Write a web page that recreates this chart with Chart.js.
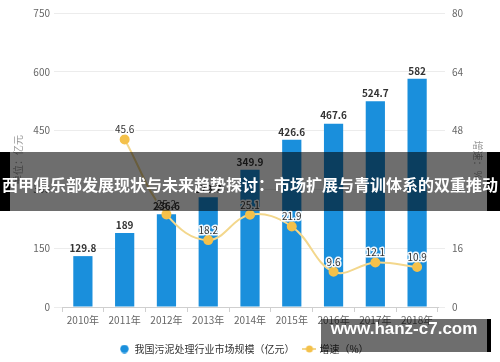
<!DOCTYPE html>
<html>
<head>
<meta charset="utf-8">
<script src="https://cdn.jsdelivr.net/npm/chart.js@4.4.0/dist/chart.umd.min.js"></script>
<style>
  html, body { margin: 0; padding: 0; background: #fff; }
  #wrap { position: relative; width: 500px; height: 362px; overflow: hidden; }
  canvas { position: absolute; left: 0; top: 0; }
  .banner { position: absolute; left: 0; top: 152px; width: 500px; height: 59px; }
  .banner .blk1 { position: absolute; left: 0; top: 0; width: 10px; height: 59px; background: #000; }
  .banner .blk2 { position: absolute; left: 487px; top: 0; width: 13px; height: 59px; background: #000; }
  .banner .gray { position: absolute; left: 10px; top: 0; width: 477px; height: 59px; background: rgba(0,0,0,0.57); }
  .banner .txt { position: absolute; left: -20px; width: 540px; top: 18px; text-align: center; color: #fff;
    font: bold 16px "Noto Sans CJK SC", sans-serif; line-height: 28px; white-space: nowrap; }
  .wm { position: absolute; left: 321px; top: 319px; width: 166px; height: 33px; background: rgba(0,0,0,0.57); }
  .wm .blk { position: absolute; left: 166px; top: 0; width: 4px; height: 33px; background: #000; }
  .wm .txt { position: absolute; left: 0; width: 166px; top: 0; line-height: 33px; text-align: center; color: #fff;
    font: bold 17px "Liberation Sans", Arial, sans-serif; white-space: nowrap; }
</style>
</head>
<body>
<div id="wrap">
  <canvas id="c" width="500" height="362"></canvas>
  <div class="banner"><div class="blk1"></div><div class="gray"></div><div class="blk2"></div>
    <div class="txt">西甲俱乐部发展现状与未来趋势探讨：市场扩展与青训体系的双重推动</div></div>
  <div class="wm"><div class="blk"></div><div class="txt">www.hanz-c7.com</div></div>
</div>
<script>
const categories = ['2010年','2011年','2012年','2013年','2014年','2015年','2016年','2017年','2018年'];
const marketSize = [129.8, 189, 236.6, 279.7, 349.9, 426.6, 467.6, 524.7, 582];
const growthRate = [null, 45.6, 25.2, 18.2, 25.1, 21.9, 9.6, 12.1, 10.9];
const leftTicks = [0, 150, 300, 450, 600, 750];
const rightTicks = [0, 16, 32, 48, 64, 80];
const seriesNames = ['我国污泥处理行业市场规模（亿元）', '增速（%）'];
const axisTitles = ['单位：亿元', '增速：%'];

const BLUE = '#1a8fdc';
const YELLOW_LINE = '#f3d78c';
const YELLOW_PT = '#f4c14b';
const FONT = '"Noto Sans CJK SC", "Noto Sans", sans-serif';

function makeCircleIcon() {
  const c = document.createElement('canvas'); c.width = 9; c.height = 9;
  const g = c.getContext('2d');
  g.fillStyle = BLUE; g.beginPath(); g.arc(4.5, 4.5, 4.2, 0, Math.PI * 2); g.fill();
  return c;
}
function makeLineIcon() {
  const c = document.createElement('canvas'); c.width = 14; c.height = 8;
  const g = c.getContext('2d');
  g.strokeStyle = YELLOW_LINE; g.lineWidth = 2;
  g.beginPath(); g.moveTo(0, 4); g.lineTo(14, 4); g.stroke();
  g.fillStyle = YELLOW_PT; g.beginPath(); g.arc(7, 4, 3.5, 0, Math.PI * 2); g.fill();
  return c;
}
const icons = [makeCircleIcon(), makeLineIcon()];

const labelPlugin = {
  id: 'valueLabels',
  afterDatasetsDraw(chart) {
    const ctx = chart.ctx;
    ctx.save();
    ctx.textAlign = 'center';
    ctx.textBaseline = 'middle';
    chart.data.datasets.forEach((ds, di) => {
      const meta = chart.getDatasetMeta(di);
      meta.data.forEach((el, i) => {
        const v = ds.data[i];
        if (v === null || v === undefined) return;
        const txt = String(v);
        if (ds.type === 'bar') {
          ctx.font = '600 10px ' + FONT;
          ctx.fillStyle = '#333';
          ctx.fillText(txt, el.x, el.y - 8);
        } else {
          ctx.font = '10px ' + FONT;
          ctx.lineWidth = 3;
          ctx.strokeStyle = 'rgba(255,255,255,0.95)';
          ctx.lineJoin = 'round';
          ctx.strokeText(txt, el.x, el.y - 10);
          ctx.fillStyle = '#333';
          ctx.fillText(txt, el.x, el.y - 10);
        }
      });
    });
    ctx.restore();
  }
};

const legendShift = {
  id: 'legendShift',
  afterLayout(chart) {
    const lg = chart.legend;
    if (lg) { lg.left -= 6; lg.right -= 6; lg.top += 2; lg.bottom += 2; }
  }
};

new Chart(document.getElementById('c'), {
  data: {
    labels: categories,
    datasets: [
      {
        type: 'line',
        label: seriesNames[1],
        data: growthRate,
        yAxisID: 'y1',
        borderColor: YELLOW_LINE,
        borderWidth: 2,
        backgroundColor: YELLOW_PT,
        pointBackgroundColor: YELLOW_PT,
        pointBorderColor: YELLOW_PT,
        pointRadius: 4,
        tension: 0.4,
        order: 0
      },
      {
        type: 'bar',
        label: seriesNames[0],
        data: marketSize,
        yAxisID: 'y',
        backgroundColor: BLUE,
        barPercentage: 0.92,
        categoryPercentage: 0.5,
        order: 1
      }
    ]
  },
  options: {
    responsive: false,
    animation: false,
    layout: { padding: { top: 3, left: 0, right: 0, bottom: 0 } },
    plugins: {
      tooltip: { enabled: false },
      legend: {
        position: 'bottom',
        labels: {
          usePointStyle: true,
          pointStyleWidth: 10,
          padding: 10,
          color: '#333',
          font: { size: 10, family: FONT },
          generateLabels(chart) {
            return [0, 1].map(k => ({
              text: seriesNames[k],
              pointStyle: icons[k],
              fillStyle: k === 0 ? BLUE : YELLOW_PT,
              strokeStyle: 'transparent',
              lineWidth: 0,
              fontColor: '#333',
              datasetIndex: k === 0 ? 1 : 0,
              hidden: false
            }));
          }
        }
      }
    },
    scales: {
      x: {
        type: 'category',
        offset: true,
        grid: { display: true, drawOnChartArea: false, offset: true, tickLength: 5, color: '#d0d0d0' },
        border: { display: true, color: '#cfcfcf' },
        ticks: { color: '#666', font: { size: 10, family: FONT }, padding: 2, maxRotation: 0, autoSkip: false },
        afterFit(s) { s.height = 25; }
      },
      y: {
        position: 'left',
        min: 0, max: 750,
        afterBuildTicks(s) { s.ticks = leftTicks.map(v => ({ value: v })); },
        grid: { color: '#ececec', tickLength: 8, tickColor: '#ececec' },
        border: { display: false },
        ticks: { color: '#666', font: { size: 10, family: FONT }, padding: 4 },
        title: { display: true, text: axisTitles[0], color: '#999', font: { size: 10, family: FONT }, padding: { top: 12, bottom: 0 } },
        afterFit(s) { s.width = 62; }
      },
      y1: {
        position: 'right',
        min: 0, max: 80,
        afterBuildTicks(s) { s.ticks = rightTicks.map(v => ({ value: v })); },
        grid: { drawOnChartArea: false, tickLength: 7, color: '#ececec' },
        border: { display: false },
        ticks: { color: '#666', font: { size: 10, family: FONT }, padding: 7 },
        title: { display: true, text: axisTitles[1], color: '#999', font: { size: 10, family: FONT }, padding: { top: 16, bottom: 0 } },
        afterFit(s) { s.width = 62; }
      }
    }
  },
  plugins: [labelPlugin, legendShift]
});
</script>
</body>
</html>
